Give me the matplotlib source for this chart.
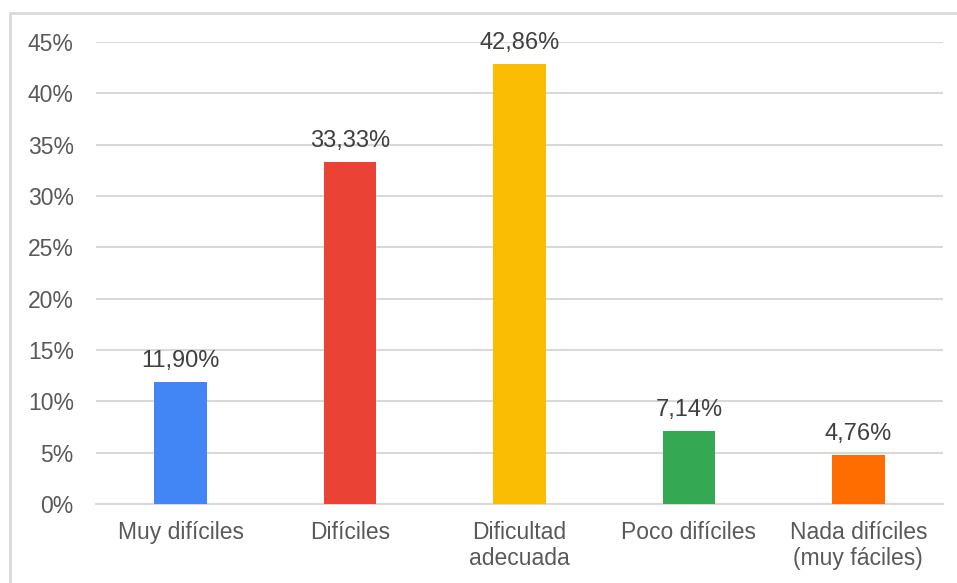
import matplotlib
matplotlib.use("Agg")
import matplotlib.pyplot as plt
from matplotlib.patches import Rectangle
from matplotlib.ticker import MultipleLocator, FuncFormatter

categories = ["Muy difíciles", "Difíciles", "Dificultad\nadecuada", "Poco difíciles", "Nada difíciles\n(muy fáciles)"]
values = [11.90, 33.33, 42.86, 7.14, 4.76]
colors = ["#4285F4", "#EA4335", "#FBBC04", "#34A853", "#FF6D01"]

plt.rcParams["font.family"] = ["Liberation Sans", "DejaVu Sans"]

W, H = 957, 583
fig = plt.figure(figsize=(W / 100, H / 100), dpi=100)
ax = fig.add_axes([96 / W, 1 - 504 / H, (943 - 96) / W, (504 - 42) / H])

x = range(len(categories))
ax.bar(x, values, width=0.31, color=colors, zorder=3)
ax.set_xlim(-0.5, len(categories) - 0.5)
ax.set_ylim(0, 45)
ax.yaxis.set_major_locator(MultipleLocator(5))
ax.yaxis.set_major_formatter(FuncFormatter(lambda v, p: f"{v:.0f}%"))
ax.grid(axis="y", color="#d9d9d9", linewidth=1.5, zorder=0)
for s in ["top", "right", "left"]:
    ax.spines[s].set_visible(False)
ax.spines["bottom"].set_color("#d9d9d9")
ax.spines["bottom"].set_linewidth(1.5)
ax.tick_params(axis="both", length=0, labelsize=16.5, labelcolor="#595959")
ax.tick_params(axis="y", pad=16)
ax.tick_params(axis="x", pad=12)
ax.set_xticks(list(x))
ax.set_xticklabels(categories, linespacing=1.2)

for xi, v in zip(x, values):
    ax.annotate(f"{v:.2f}%".replace(".", ","), (xi, v), xytext=(0, 7),
                textcoords="offset points", ha="center", va="bottom",
                fontsize=17, color="#404040")

# outer frame of the chart area
fig.patches.append(Rectangle((10 / W, -0.1), 1.2, 1 - 13 / H + 0.1,
                             transform=fig.transFigure, fill=False,
                             edgecolor="#d9d9d9", linewidth=2))

fig.savefig("out.png", dpi=100)
